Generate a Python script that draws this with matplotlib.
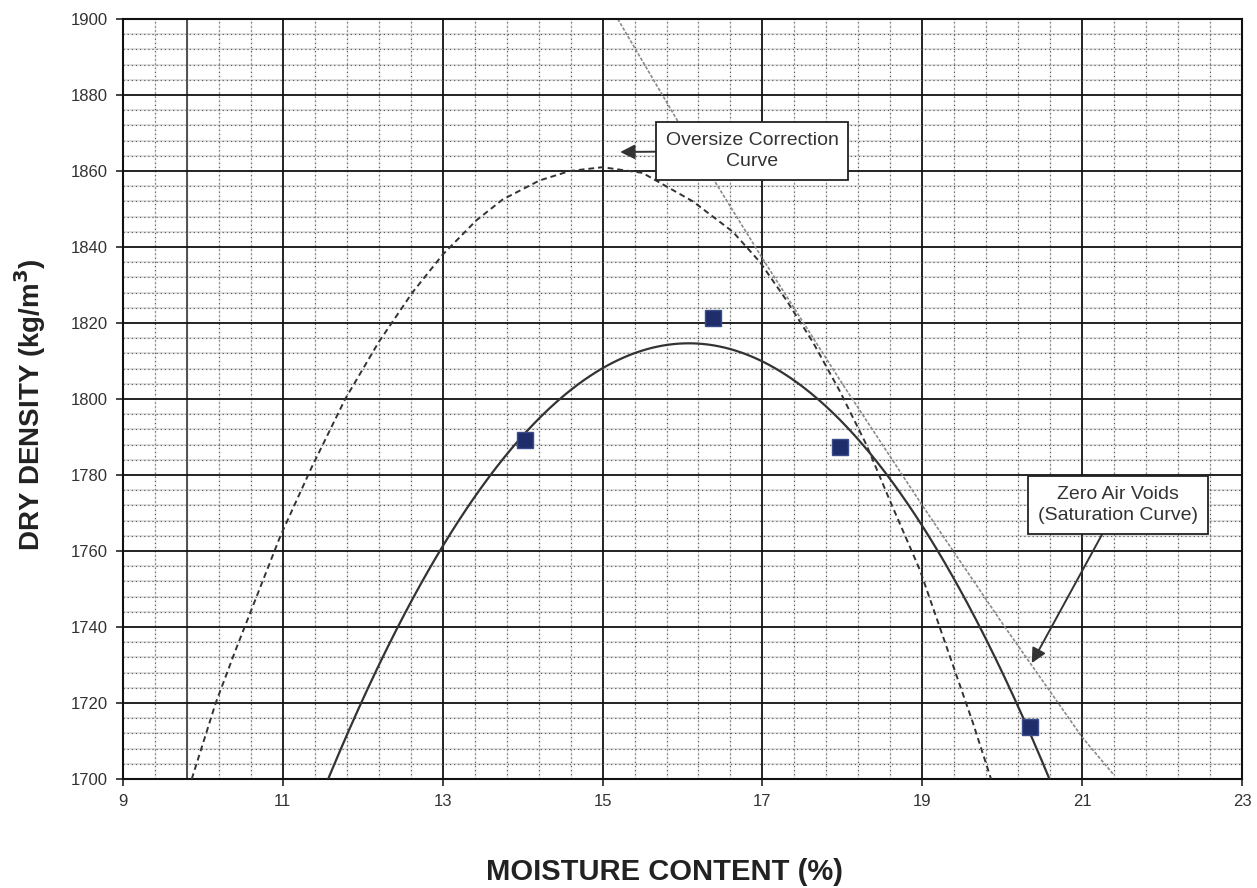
import numpy as np
import matplotlib
matplotlib.use('Agg')
import matplotlib.pyplot as plt
from matplotlib.ticker import FixedLocator

plt.rcParams['font.family'] = ['Liberation Sans', 'DejaVu Sans']

# ---- data ----
moisture = [14.03, 16.38, 17.97, 20.35]
density = [1789.2, 1821.3, 1787.4, 1713.7]

oversize_x = [9.86, 10.16, 10.41, 10.97, 11.36, 11.78, 12.2, 12.62, 13.0, 13.42,
              13.75, 14.21, 14.59, 15.0, 15.5, 16.13, 16.63, 16.97, 17.3, 17.63,
              17.97, 18.3, 18.6, 18.97, 19.3, 19.63, 19.86]
oversize_y = [1700, 1720, 1734, 1764, 1782, 1800, 1815, 1828, 1838, 1847,
              1852.5, 1857.5, 1860, 1861, 1859.5, 1852, 1844, 1836, 1826, 1815,
              1802, 1788, 1773, 1755, 1735, 1715, 1700]

zav_x = [15.19, 16.0, 17.0, 18.0, 19.0, 20.0, 21.0, 21.4]
zav_y = [1900, 1871, 1837, 1804, 1772, 1741, 1711, 1701]

x_ticks = [9, 11, 13, 15, 17, 19, 21, 23]
y_ticks = [1700, 1720, 1740, 1760, 1780, 1800, 1820, 1840, 1860, 1880, 1900]
x_minor_step = 0.4
y_minor_step = 4
extra_rule_x = [9.8]

# ---- figure ----
W, H = 1257, 888
fig = plt.figure(figsize=(W / 100, H / 100), dpi=100)
ax = fig.add_axes([123 / W, 1 - 779 / H, (1242 - 123) / W, (779 - 19) / H])

ax.set_xlim(x_ticks[0], x_ticks[-1])
ax.set_ylim(y_ticks[0], y_ticks[-1])
ax.set_xticks(x_ticks)
ax.set_yticks(y_ticks)
ax.xaxis.set_minor_locator(FixedLocator(np.arange(x_ticks[0] + x_minor_step, x_ticks[-1], x_minor_step)))
ax.yaxis.set_minor_locator(FixedLocator(np.arange(y_ticks[0] + y_minor_step, y_ticks[-1], y_minor_step)))

ax.set_axisbelow(True)
# light underlay for minor lines
for yv in ax.yaxis.get_minorticklocs():
    ax.axhline(yv, color='#d9d9d9', lw=1.1, zorder=0.2)
for xv in ax.xaxis.get_minorticklocs():
    ax.axvline(xv, color='#e6e6e6', lw=1.0, zorder=0.2)
ax.grid(which='minor', color='#5a5a5a', lw=0.85, linestyle=(0, (1, 2.5)), zorder=0.3)
ax.grid(which='major', color='#111111', lw=1.3, zorder=0.5)
for xv in extra_rule_x:
    ax.axvline(xv, color='#222222', lw=1.1, zorder=0.5)

ax.tick_params(which='major', direction='out', length=5, width=1.2, labelsize=12,
               labelcolor='#333333', color='#222222', pad=6)
ax.tick_params(which='minor', length=0)
for s in ax.spines.values():
    s.set_linewidth(1.5)
    s.set_color('#111111')

# zero air voids curve
ax.plot(zav_x, zav_y, color='#8a8a8a', lw=1.2, linestyle=(0, (2, 1)), zorder=2)

# oversize correction curve
ax.plot(oversize_x, oversize_y, color='#333333', lw=1.4, linestyle=(0, (3, 2)), zorder=3)

# fitted compaction curve (quadratic trendline through the test points)
coef = np.polyfit(moisture, density, 2)
xs = np.linspace(x_ticks[0], x_ticks[-1], 600)
ax.plot(xs, np.polyval(coef, xs), color='#333333', lw=1.6, zorder=3)

# test points
ax.plot(moisture, density, linestyle='none', marker='s', markersize=11,
        markerfacecolor='#1f2d6b', markeredgecolor='#3b4c8c', markeredgewidth=1, zorder=5)

# annotations
box = dict(boxstyle='square,pad=0.5', fc='white', ec='#222222', lw=1.3)
arrow = dict(arrowstyle='-|>', color='#333333', lw=1.4, mutation_scale=22, shrinkA=0, shrinkB=0)
ax.annotate('Oversize Correction\nCurve', xy=(15.22, 1865.0), xytext=(16.87, 1865.3),
            ha='center', va='center', fontsize=14, color='#333333', bbox=box,
            linespacing=1.3, arrowprops=arrow, zorder=6)
ax.annotate('Zero Air Voids\n(Saturation Curve)', xy=(20.37, 1730.5), xytext=(21.45, 1772.1),
            ha='center', va='center', fontsize=14, color='#333333', bbox=box,
            linespacing=1.3, arrowprops=arrow, zorder=6)

fig.text(664 / W, 1 - 872 / H, 'MOISTURE CONTENT (%)', ha='center', va='center',
         fontsize=21, fontweight='bold', color='#222222')
fig.text(30 / W, 1 - 405 / H, 'DRY DENSITY (kg/m$^{\\mathbf{3}}$)', ha='center', va='center',
         rotation=90, fontsize=20, fontweight='bold', color='#222222')

fig.savefig('out.png', dpi=100)
